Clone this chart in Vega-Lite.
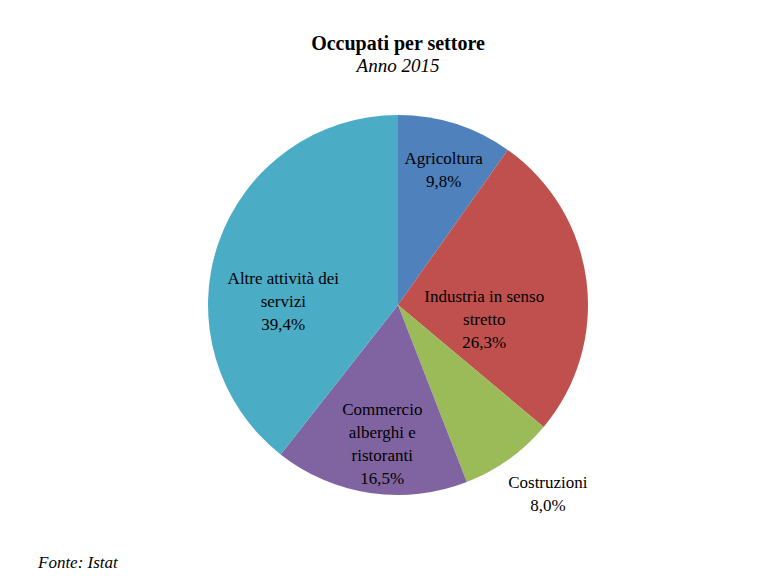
{
  "$schema": "https://vega.github.io/schema/vega-lite/v6.json",
  "autosize": {"type": "none"},
  "padding": {"left": 11, "top": 10, "right": 0, "bottom": 0},
  "width": 774,
  "height": 590,
  "background": "white",
  "title": {
    "text": "Occupati per settore",
    "subtitle": "Anno 2015",
    "anchor": "middle",
    "offset": -66,
    "font": "Liberation Serif",
    "fontSize": 20,
    "fontWeight": "bold",
    "color": "#000000",
    "subtitleFont": "Liberation Serif",
    "subtitleFontSize": 19,
    "subtitleFontStyle": "italic",
    "subtitleColor": "#000000",
    "subtitlePadding": 3
  },
  "config": {
    "view": {"stroke": "#d9d9d9", "strokeWidth": 1.5},
    "text": {"font": "Liberation Serif", "fontSize": 17, "color": "#000000"}
  },
  "data": {
    "values": [
      {"i": 1, "settore": "Agricoltura", "quota": 9.8, "etichetta": "Agricoltura\n9,8%"},
      {"i": 2, "settore": "Industria in senso stretto", "quota": 26.3, "etichetta": "Industria in senso\nstretto\n26,3%"},
      {"i": 3, "settore": "Costruzioni", "quota": 8.0, "etichetta": "Costruzioni\n8,0%"},
      {"i": 4, "settore": "Commercio alberghi e ristoranti", "quota": 16.5, "etichetta": "Commercio\nalberghi e\nristoranti\n16,5%"},
      {"i": 5, "settore": "Altre attività dei servizi", "quota": 39.4, "etichetta": "Altre attività dei\nservizi\n39,4%"}
    ]
  },
  "encoding": {
    "theta": {"field": "quota", "type": "quantitative", "stack": true},
    "order": {"field": "i", "type": "quantitative"}
  },
  "layer": [
    {
      "mark": {"type": "arc", "outerRadius": 190},
      "encoding": {
        "color": {
          "field": "settore",
          "type": "nominal",
          "legend": null,
          "scale": {
            "domain": ["Agricoltura", "Industria in senso stretto", "Costruzioni", "Commercio alberghi e ristoranti", "Altre attività dei servizi"],
            "range": ["#4F81BD", "#C0504D", "#9BBB59", "#8064A2", "#4BACC6"]
          }
        }
      }
    },
    {
      "mark": {"type": "text", "radius": 141, "dx": 3, "dy": -11.5, "lineBreak": "\n", "lineHeight": 23},
      "encoding": {"text": {"condition": {"test": "datum.i == 1", "field": "etichetta"}, "value": ""}}
    },
    {
      "mark": {"type": "text", "radius": 141, "dx": 5, "dy": -34.5, "lineBreak": "\n", "lineHeight": 23},
      "encoding": {"text": {"condition": {"test": "datum.i == 4", "field": "etichetta"}, "value": ""}}
    },
    {
      "mark": {"type": "text", "radius": 87, "dy": 3, "lineBreak": "\n", "lineHeight": 23},
      "encoding": {"text": {"condition": {"test": "datum.i == 2", "field": "etichetta"}, "value": ""}}
    },
    {
      "mark": {"type": "text", "radius": 240, "dx": 10, "dy": -17.5, "lineBreak": "\n", "lineHeight": 23},
      "encoding": {"text": {"condition": {"test": "datum.i == 3", "field": "etichetta"}, "value": ""}}
    },
    {
      "mark": {"type": "text", "radius": 115, "dx": -6, "dy": 12, "lineBreak": "\n", "lineHeight": 23},
      "encoding": {"text": {"condition": {"test": "datum.i == 5", "field": "etichetta"}, "value": ""}}
    },
    {
      "data": {"values": [{"fonte": "Fonte: Istat"}]},
      "mark": {"type": "text", "align": "left", "fontStyle": "italic", "fontSize": 17, "x": 27, "y": 553},
      "encoding": {"text": {"field": "fonte"}, "theta": null, "order": null}
    }
  ]
}
